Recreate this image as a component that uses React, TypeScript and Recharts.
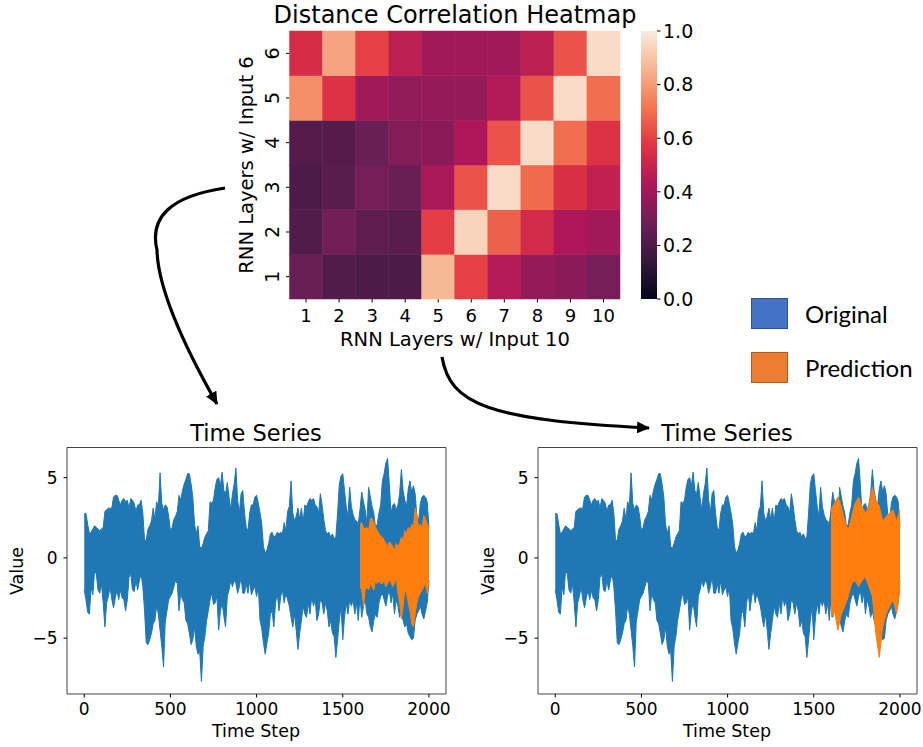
import React from "react";
import {
  ScatterChart,
  Scatter,
  ComposedChart,
  BarChart,
  Bar,
  Area,
  XAxis,
  YAxis,
  ReferenceArea,
} from "recharts";

// heatmap: rows listed bottom (1) to top (6), columns 1..10
const hmCols = [1, 2, 3, 4, 5, 6, 7, 8, 9, 10];
const hmRows = [1, 2, 3, 4, 5, 6];
const distCorr = [
  [0.27, 0.21, 0.2, 0.2, 0.87, 0.6, 0.45, 0.37, 0.35, 0.3],
  [0.21, 0.29, 0.24, 0.23, 0.59, 0.94, 0.67, 0.53, 0.43, 0.4],
  [0.2, 0.23, 0.3, 0.27, 0.42, 0.64, 0.96, 0.69, 0.55, 0.48],
  [0.22, 0.22, 0.27, 0.33, 0.35, 0.43, 0.64, 0.96, 0.7, 0.56],
  [0.77, 0.56, 0.4, 0.36, 0.37, 0.37, 0.44, 0.64, 0.96, 0.7],
  [0.54, 0.82, 0.6, 0.47, 0.4, 0.4, 0.4, 0.47, 0.64, 0.96],
];
const cbTicks = [0, 0.2, 0.4, 0.6, 0.8, 1.0];

// time series envelopes (max / min every 10 steps, t = 0..2000)
const origHigh = [
  2.76, 2.76, 2.1, 1.5, 1.6, 1.8, 2.0, 1.9, 1.8, 1.7, 1.8, 1.9, 2.9, 3.0, 3.1, 3.1, 3.1, 3.8, 3.9, 3.9,
  3.6, 3.3, 3.6, 3.7, 3.5, 3.6, 3.1, 3.7, 3.6, 3.4, 2.9, 3.3, 3.3, 3.6, 2.8, 1.1, 1.1, 1.8, 2.0, 2.3,
  3.1, 2.4, 3.5, 3.2, 5.3, 3.4,
  3.0, 3.3, 3.2, 2.6, 1.7, 1.9, 2.4, 2.6, 2.9, 3.9, 3.6, 4.2, 4.6, 4.9, 5.25, 5.25, 4.6, 3.8, 2.1, 1.5,
  2.0, 0.7, 0.6, 0.9, 1.3, 1.5, 1.7, 3.5,
  3.4, 3.6, 4.4, 4.9, 5.0, 4.5, 5.35, 4.2, 4.0, 4.7, 3.8, 3.0, 4.0, 4.6, 5.6, 3.6, 2.8, 4.0, 4.2, 2.8,
  1.9, 1.7, 2.8, 3.3, 3.3, 3.8, 3.9, 3.4,
  2.8,
  2.1, 0.7, 0.3, 0.5, 0.9, 1.5, 1.6, 1.3, 1.4, 1.6, 1.5, 1.6, 1.5, 2.2, 1.7,
  2.9, 3.2, 4.8, 2.8, 2.3, 2.6, 3.1, 2.4, 3.1, 2.2, 3.3, 3.2, 3.5, 3.7, 3.6, 3.7, 3.3, 3.2, 2.8, 4.0,
  3.3, 2.4, 1.7, 1.5, 1.6, 1.3, 1.5, 1.2,
  1.3, 2.8, 4.6, 5.1, 5.25, 4.2, 3.2, 2.6, 4.4, 3.2, 2.7, 2.4, 2.3, 2.1, 3.0, 4.1, 3.5, 3.0, 2.2, 4.4,
  3.8, 3.2, 2.8, 1.9, 2.1, 2.8, 3.3,
  4.8, 5.25, 5.9, 6.2, 4.6, 2.8, 3.3, 3.4, 3.0, 3.3, 4.0, 5.5, 4.2, 3.6, 3.2, 4.3, 4.8, 4.1, 4.5, 4.0,
  2.6, 2.3, 3.4, 3.8, 3.9, 3.8, 3.5, 1.9,
];
const origLow = [
  -2.0, -2.6, -3.4, -3.5, -1.8, -2.3, -0.8, -1.0, -2.0, -2.2, -1.6, -2.8, -4.3, -2.8, -2.4, -1.8, -2.6, -3.1, -2.5, -2.0,
  -2.6, -2.0, -2.5, -2.6, -3.3, -2.6, -1.2, -1.0, -2.0, -2.1, -1.4, -2.0, -1.4, -1.0, -1.8, -3.3, -5.3, -5.4, -5.1, -4.7,
  -4.1, -3.9, -3.0, -3.5, -4.5, -5.5,
  -6.8, -4.0, -3.3, -2.6, -2.4, -2.2, -1.8, -1.4, -1.6, -3.3, -2.2, -2.6, -2.8, -3.9, -4.1, -4.7, -5.4, -5.1, -4.3, -5.5,
  -6.0, -5.8, -7.7, -5.5, -4.9, -3.9, -3.3, -2.6,
  -2.2, -2.9, -2.8, -2.4, -4.5, -3.3, -2.8, -3.6, -4.3, -2.4, -2.0, -1.4, -1.8, -1.4, -1.6, -2.2, -1.8, -1.2, -2.2, -2.2,
  -1.6, -2.2, -1.4, -2.3, -2.0, -1.8, -2.4, -1.8,
  -3.9,
  -4.4, -5.3, -6.0, -5.3, -4.7, -3.5, -3.3, -4.3, -2.8, -2.2, -3.3, -2.4, -2.0, -2.8, -2.2,
  -2.6, -3.0, -3.7, -4.3, -3.5, -4.5, -5.7, -4.7, -3.9, -3.0, -3.5, -3.7, -2.8, -3.5, -2.4, -3.0, -2.6, -3.9, -3.5, -2.6,
  -2.8, -3.5, -2.8, -3.3, -4.3, -3.9, -4.7, -4.9,
  -6.2, -5.1, -3.9, -3.0, -5.1, -3.7, -2.8, -3.5, -2.6, -3.0, -2.6, -3.5, -2.8, -3.9, -2.4, -3.7, -3.0, -2.6, -3.5, -3.7,
  -4.3, -4.6, -3.9, -3.5, -3.7, -2.8, -2.4,
  -2.2, -2.6, -3.0, -2.4, -2.0, -2.8, -2.2, -3.5, -2.6, -3.0, -3.7, -3.3, -3.9, -4.3, -4.1, -4.7, -4.9, -5.1, -5.0, -3.9,
  -3.5, -3.3, -3.0, -3.5, -3.8, -3.3, -2.8, -1.4,
];
// first prediction: every 10 steps from 1600
const pred1High = [
  2.1, 2.2, 1.9, 1.8, 1.9, 1.7, 2.45, 2.45, 2.2, 1.9, 1.7, 1.5, 1.4, 1.3, 1.1,
  0.9, 0.7, 1.0, 0.9, 0.7, 0.5, 0.9, 0.7, 0.9, 1.3, 1.1, 1.7, 1.5, 1.9, 1.7, 2.1, 1.9, 3.1, 2.7, 1.9,
  2.1, 1.8, 2.65, 2.45, 2.1, 1.9,
];
const pred1Low = [
  -1.8, -2.0, -3.0, -2.0, -1.8, -2.0, -1.6, -1.8, -2.0, -1.4, -1.6, -1.4, -1.6, -1.6, -1.4,
  -1.8, -1.6, -1.4, -1.5, -1.8, -1.6, -1.2, -2.2, -2.8, -3.8, -3.0, -2.0, -2.2, -2.8, -3.3, -4.1, -4.3, -3.5, -2.8, -2.4,
  -2.2, -2.0, -1.8, -1.6, -2.2, -1.4,
];
// second prediction: every 20 steps from 1600
const pred2High = [3.0, 3.4, 3.8, 3.2, 2.3, 1.7, 2.6, 3.4, 3.8, 3.2, 2.8, 3.2, 4.4, 3.6, 3.2, 2.3, 2.6, 2.8, 3.0, 2.3, 3.0];
const pred2Low = [-3.7, -3.3, -4.5, -3.5, -3.0, -2.4, -1.6, -1.4, -1.8, -1.4, -1.2, -1.8, -2.4, -4.7, -6.2, -4.3, -3.5, -3.0, -2.6, -3.5, -2.0];
const xTicks = [0, 500, 1000, 1500, 2000];
const yTicks = [-5, 0, 5];

const STEP = 10;
const PRED_START = 1600;

const FONT = "'DejaVu Sans', sans-serif";
const BLUE = "#1f77b4";
const ORANGE = "#ff7f0e";

// seaborn "rocket" colormap
const rocketStops: [number, string][] = [
  [0, "#03051A"],
  [0.143, "#35193E"],
  [0.286, "#701F57"],
  [0.429, "#AD1759"],
  [0.571, "#E13342"],
  [0.714, "#F37651"],
  [0.857, "#F6B48F"],
  [1, "#FAEBDD"],
];

function hexToRgb(h: string) {
  return [1, 3, 5].map((i) => parseInt(h.slice(i, i + 2), 16));
}

function rocket(v: number) {
  for (let i = 1; i < rocketStops.length; i++) {
    const [p0, c0] = rocketStops[i - 1];
    const [p1, c1] = rocketStops[i];
    if (v <= p1) {
      const f = (v - p0) / (p1 - p0);
      const a = hexToRgb(c0);
      const b = hexToRgb(c1);
      const rgb = a.map((x, k) => Math.round(x + (b[k] - x) * f));
      return `rgb(${rgb.join(",")})`;
    }
  }
  return rocketStops[rocketStops.length - 1][1];
}

const heatData = hmRows.flatMap((row, r) =>
  hmCols.map((col, c) => ({ col, row, v: distCorr[r][c] }))
);

const tsRows = origHigh.map((hi, i) => {
  const t = i * STEP;
  const j = (t - PRED_START) / STEP;
  const m = (t - PRED_START) / 20;
  return {
    t,
    orig: [origLow[i], hi],
    pred1: j >= 0 ? [pred1Low[j], pred1High[j]] : null,
    pred2: m >= 0 && Number.isInteger(m) ? [pred2Low[m], pred2High[m]] : null,
  };
});

// heatmap plot box
const HM_W = 330.5;
const HM_H = 268;
const CELL_W = HM_W / hmCols.length;
const CELL_H = HM_H / hmRows.length;

const HeatCell = (props: any) => {
  const { cx, cy, payload } = props;
  const c = rocket(payload.v);
  return (
    <rect
      x={cx - CELL_W / 2}
      y={cy - CELL_H / 2}
      width={CELL_W}
      height={CELL_H}
      fill={c}
      stroke={c}
      strokeWidth={0.5}
    />
  );
};

const RotTick = (props: any) => {
  const { x, y, payload } = props;
  const tx = x - 5;
  return (
    <text
      x={tx}
      y={y}
      transform={`rotate(-90 ${tx} ${y})`}
      textAnchor="middle"
      fontSize={19}
      fontFamily={FONT}
      fill="#000"
    >
      {payload.value}
    </text>
  );
};

const abs = (style: React.CSSProperties): React.CSSProperties => ({
  position: "absolute",
  whiteSpace: "nowrap",
  lineHeight: 1,
  fontFamily: FONT,
  color: "#000",
  ...style,
});

const centered = (x: number, y: number, size: number, extra: React.CSSProperties = {}) =>
  abs({ left: x, top: y, fontSize: size, transform: "translate(-50%, -50%)", ...extra });

function Heatmap() {
  return (
    <div style={{ position: "absolute", left: 230, top: 0 }}>
      <ScatterChart
        width={400}
        height={360}
        margin={{ top: 31, right: 10, bottom: 11, left: 0 }}
      >
        <XAxis
          type="number"
          dataKey="col"
          domain={[0.5, 10.5]}
          ticks={hmCols}
          axisLine={false}
          tickSize={3.5}
          tickMargin={7}
          height={50}
          tickLine={{ stroke: "#000" }}
          tick={{ fontSize: 18, fontFamily: FONT, fill: "#000" }}
        />
        <YAxis
          type="number"
          dataKey="row"
          domain={[0.5, 6.5]}
          ticks={hmRows}
          axisLine={false}
          tickSize={3.5}
          width={59.5}
          tickLine={{ stroke: "#000" }}
          tick={<RotTick />}
        />
        <Scatter data={heatData} shape={HeatCell} isAnimationActive={false} />
      </ScatterChart>
    </div>
  );
}

function ColorBar() {
  return (
    <div style={{ position: "absolute", left: 600, top: 0 }}>
      <BarChart
        width={100}
        height={360}
        data={[{ name: "cb", top: 1 }]}
        margin={{ top: 31, right: 0, bottom: 61, left: 41 }}
        barCategoryGap={0}
      >
        <defs>
          <linearGradient id="rocketGrad" x1="0" y1="1" x2="0" y2="0">
            {rocketStops.map(([p, c]) => (
              <stop key={p} offset={p} stopColor={c} />
            ))}
          </linearGradient>
        </defs>
        <XAxis dataKey="name" hide />
        <YAxis
          type="number"
          orientation="right"
          domain={[0, 1]}
          ticks={cbTicks}
          width={43}
          axisLine={false}
          tickSize={3.5}
          tickMargin={2.5}
          tickLine={{ stroke: "#000" }}
          tickFormatter={(v: number) => v.toFixed(1)}
          tick={{ fontSize: 19, fontFamily: FONT, fill: "#000" }}
        />
        <Bar dataKey="top" fill="url(#rocketGrad)" isAnimationActive={false} />
      </BarChart>
    </div>
  );
}

const X_DOMAIN: [number, number] = [-100, 2099];
const Y_DOMAIN: [number, number] = [-8.48, 6.88];

function TimeSeries({ left, predKey }: { left: number; predKey: "pred1" | "pred2" }) {
  const mid = left + 256;
  return (
    <>
      <div style={centered(mid, 433, 22.5)}>Time Series</div>
      <div style={centered(mid, 732, 17.5)}>Time Step</div>
      <div style={centered(left + 17.5, 571, 17.5, { transform: "translate(-50%, -50%) rotate(-90deg)" })}>
        Value
      </div>
      <div style={{ position: "absolute", left, top: 410 }}>
        <ComposedChart
          width={460}
          height={337}
          data={tsRows}
          margin={{ top: 37.5, right: 14, bottom: 13, left: 7 }}
        >
          <XAxis
            type="number"
            dataKey="t"
            domain={X_DOMAIN}
            ticks={xTicks}
            allowDataOverflow
            axisLine={false}
            tickSize={3.5}
            tickMargin={5.5}
            height={40}
            tickLine={{ stroke: "#000" }}
            tick={{ fontSize: 17, fontFamily: FONT, fill: "#000" }}
          />
          <YAxis
            type="number"
            domain={Y_DOMAIN}
            ticks={yTicks}
            allowDataOverflow
            axisLine={false}
            tickSize={3.5}
            tickMargin={6}
            width={60}
            tickLine={{ stroke: "#000" }}
            tickFormatter={(v: number) => (v < 0 ? `\u2212${Math.abs(v)}` : `${v}`)}
            tick={{ fontSize: 17, fontFamily: FONT, fill: "#000" }}
          />
          <ReferenceArea
            x1={X_DOMAIN[0]}
            x2={X_DOMAIN[1]}
            y1={Y_DOMAIN[0]}
            y2={Y_DOMAIN[1]}
            fill="none"
            stroke="#444"
            strokeWidth={1}
          />
          <Area
            type="linear"
            dataKey="orig"
            stroke={BLUE}
            strokeWidth={1}
            fill={BLUE}
            fillOpacity={1}
            dot={false}
            activeDot={false}
            isAnimationActive={false}
          />
          <Area
            type="linear"
            dataKey={predKey}
            stroke={ORANGE}
            strokeWidth={1}
            fill={ORANGE}
            fillOpacity={1}
            dot={false}
            activeDot={false}
            connectNulls
            isAnimationActive={false}
          />
        </ComposedChart>
      </div>
    </>
  );
}

function Arrows() {
  return (
    <svg
      width={923}
      height={747}
      style={{ position: "absolute", left: 0, top: 0, pointerEvents: "none" }}
    >
      <defs>
        <marker
          id="head"
          markerUnits="userSpaceOnUse"
          markerWidth={14}
          markerHeight={12}
          refX={12}
          refY={6}
          orient="auto"
        >
          <path d="M0,0 L13,6 L0,12 Z" fill="#000" />
        </marker>
      </defs>
      <path
        d="M225,188 Q145,200 157,250 Q158,300 217,404"
        fill="none"
        stroke="#000"
        strokeWidth={3.2}
        markerEnd="url(#head)"
      />
      <path
        d="M442,357 C450,405 490,420 649,428"
        fill="none"
        stroke="#000"
        strokeWidth={3.2}
        markerEnd="url(#head)"
      />
    </svg>
  );
}

function Legend() {
  const box = (top: number, fill: string, border: string): React.CSSProperties => ({
    position: "absolute",
    left: 751,
    top,
    width: 37,
    height: 31,
    background: fill,
    border: `1px solid ${border}`,
    boxSizing: "border-box",
  });
  const label = (top: number): React.CSSProperties =>
    abs({ left: 805, top, fontSize: 24, fontFamily: "Lato, 'Open Sans', sans-serif", transform: "translateY(-50%)" });
  return (
    <>
      <div style={box(298, "#4472C4", "#2F528F")} />
      <div style={label(314)}>Original</div>
      <div style={box(352, "#ED7D31", "#AE5A21")} />
      <div style={label(368)}>Prediction</div>
    </>
  );
}

export default function App() {
  return (
    <div
      style={{
        position: "absolute",
        left: 0,
        top: 0,
        width: 923,
        height: 747,
        background: "#fff",
        overflow: "hidden",
      }}
    >
      <div style={centered(455, 15, 24)}>Distance Correlation Heatmap</div>
      <Heatmap />
      <ColorBar />
      <div style={centered(455, 340, 19.5)}>RNN Layers w/ Input 10</div>
      <div style={centered(247, 165, 19.5, { transform: "translate(-50%, -50%) rotate(-90deg)" })}>
        RNN Layers w/ Input 6
      </div>
      <Legend />
      <TimeSeries left={0} predKey="pred1" />
      <TimeSeries left={471} predKey="pred2" />
      <Arrows />
    </div>
  );
}
